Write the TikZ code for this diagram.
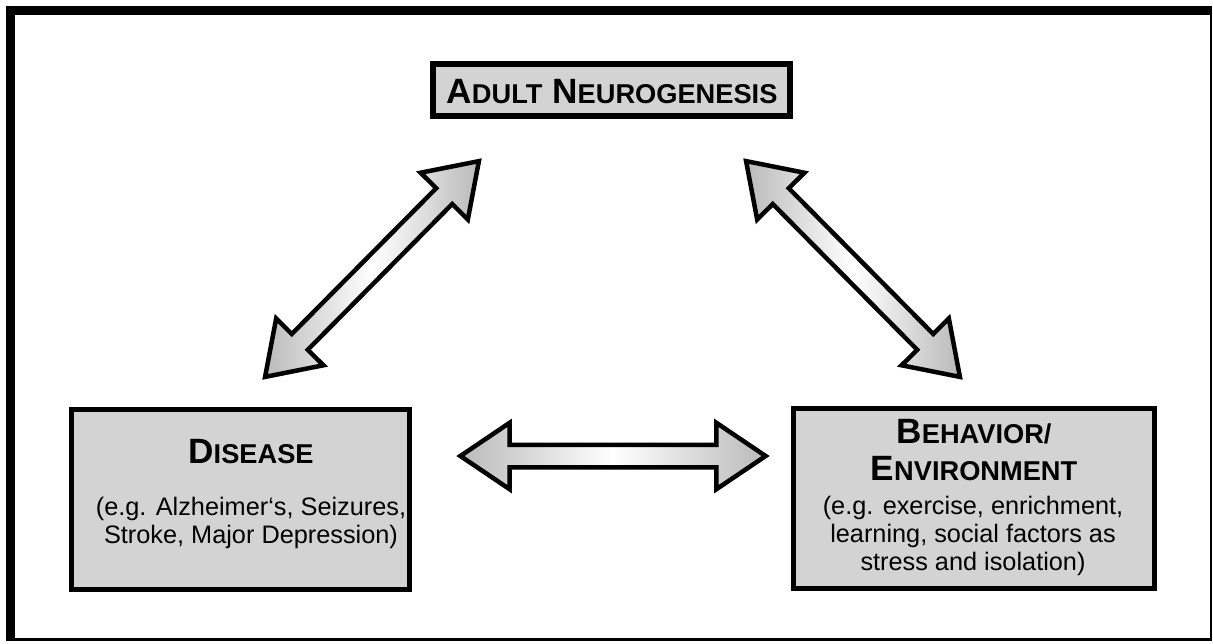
\documentclass[tikz,border=0pt]{standalone}
\usepackage{fontspec}
\setmainfont{Liberation Sans}
\usetikzlibrary{shapes.arrows,calc}
\definecolor{boxgray}{RGB}{211,211,211}
\definecolor{arrowgray}{RGB}{186,186,186}
\tikzstyle{Box} = [rectangle, draw=black, line width=0.1cm, fill=boxgray, inner sep=0pt]
\tikzstyle{Title} = [font=\bfseries\fontsize{20}{21}\selectfont, align=center, inner sep=0pt, anchor=base]
\tikzstyle{Text} = [font=\fontsize{14.4}{15.9}\selectfont, align=center, inner sep=0pt, anchor=north]
\tikzstyle{bigarrow} = [double arrow, draw=black, line width=0.09cm, left color=arrowgray, right color=arrowgray, middle color=white, inner xsep=0pt, inner ysep=0.18cm, minimum width=0pt, double arrow head extend=0.44cm, double arrow tip angle=68]
\newcommand{\CapWord}[2]{{\fontsize{20}{21}\selectfont #1}{\fontsize{15.5}{18}\selectfont #2}}
\newcommand{\FatArrow}[2]{\path let \p1=($(#2)-(#1)$), \n1={atan2(\y1,\x1)}, \n2={veclen(\x1,\y1)} in node[bigarrow, rotate=\n1, minimum height={(\n2-5)*1pt}] at ($(#1)!0.5!(#2)$) {};}

\begin{document}
\begin{tikzpicture}[x=0.02cm, y=-0.02cm]
\useasboundingbox (0,0) rectangle (1213,643);
% Frame
\fill[black] (6,6) rectangle (1212,641);
\fill[white] (15,15) rectangle (1210,638);
% Draw boxes
\node (Neuro) [Box, line width=0.12cm, minimum width=7.14cm, minimum height=1.04cm] at (611.5,90) {};
\node (Disease) [Box, minimum width=6.78cm, minimum height=3.62cm] at (240.5,499.5) {};
\node (Behavior) [Box, minimum width=7.22cm, minimum height=3.6cm] at (974,498.5) {};
% Draw texts
\node (NeuroTitle) [Title] at (612,103) {\CapWord{A}{DULT} \CapWord{N}{EUROGENESIS}};
\node (DiseaseTitle) [Title] at (251,463) {\CapWord{D}{ISEASE}};
\node (DiseaseText) [Text] at (251,497)
{(e.g. Alzheimer‘s, Seizures,\\
Stroke, Major Depression)};
\node (BehaviorTitle) [Title] at (974,480)
{\CapWord{B}{EHAVIOR/}\\
\CapWord{E}{NVIRONMENT}};
\node (BehaviorText) [Text] at (973,495.5)
{(e.g. exercise, enrichment,\\
learning, social factors as\\
stress and isolation)};
% Draw arrows
\coordinate (LeftTop) at (482,158);
\coordinate (LeftBottom) at (262,380);
\coordinate (RightTop) at (743,158);
\coordinate (RightBottom) at (963,380);
\coordinate (MidLeft) at (456,456);
\coordinate (MidRight) at (770,456);
\FatArrow{LeftBottom}{LeftTop}
\FatArrow{RightTop}{RightBottom}
\FatArrow{MidLeft}{MidRight}
\end{tikzpicture}
\end{document}
